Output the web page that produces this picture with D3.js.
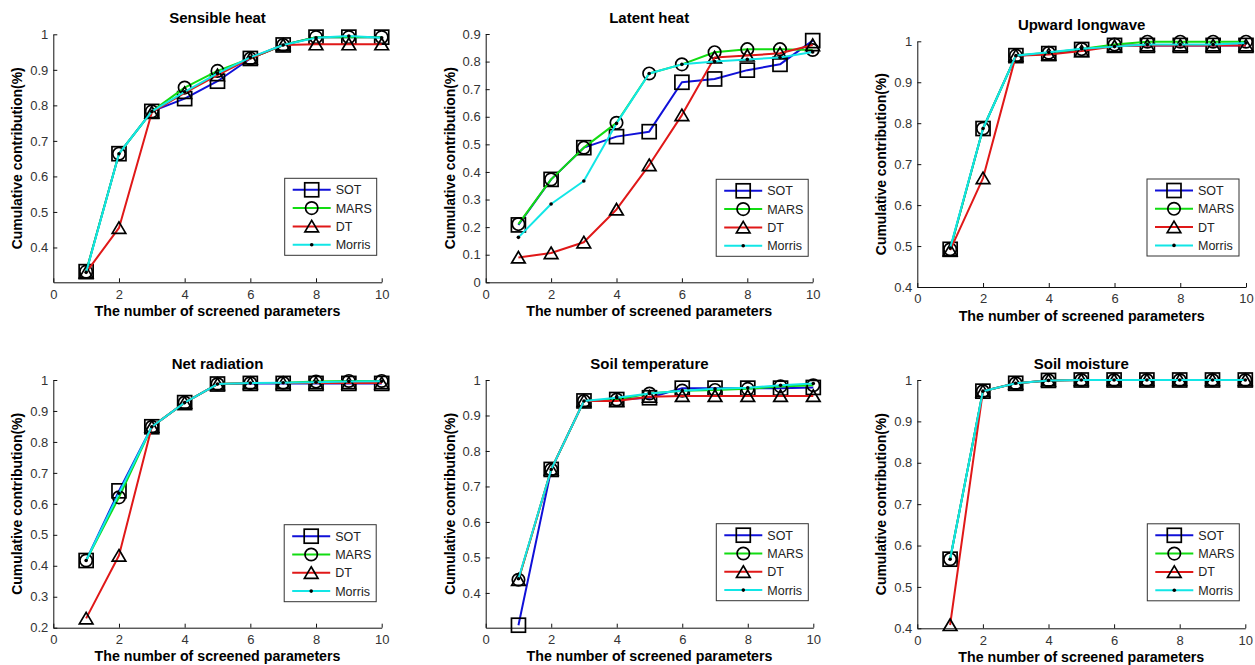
<!DOCTYPE html>
<html><head><meta charset="utf-8">
<script src="https://cdn.jsdelivr.net/npm/d3@7"></script>
<style>
body{margin:0;background:#fff}
svg{display:block}
text{font-family:"Liberation Sans",Arial,Helvetica,sans-serif}
</style>
</head><body>
<svg id="c" width="1255" height="665"></svg>
<script>
// ---------- data ----------
const paramCounts = [1,2,3,4,5,6,7,8,9,10];
const xTickValues = [0,2,4,6,8,10];
const methodNames = ["SOT","MARS","DT","Morris"];
const panelTitles = ["Sensible heat","Latent heat","Upward longwave","Net radiation","Soil temperature","Soil moisture"];
const xAxisLabel = "The number of screened parameters";
const yAxisLabel = "Cumulative contribution(%)";

const yTicksSensible = [0.4,0.5,0.6,0.7,0.8,0.9,1];
const yTicksLatent   = [0,0.1,0.2,0.3,0.4,0.5,0.6,0.7,0.8,0.9];
const yTicksUpward   = [0.4,0.5,0.6,0.7,0.8,0.9,1];
const yTicksNet      = [0.2,0.3,0.4,0.5,0.6,0.7,0.8,0.9,1];
const yTicksSoilT    = [0.4,0.5,0.6,0.7,0.8,0.9,1];
const yTicksSoilM    = [0.4,0.5,0.6,0.7,0.8,0.9,1];

const yDomainSensible = [0.302,1];
const yDomainLatent   = [0,0.9];
const yDomainUpward   = [0.4,1];
const yDomainNet      = [0.2,1];
const yDomainSoilT    = [0.302,1];
const yDomainSoilM    = [0.4,1];

const sensibleSOT    = [0.332,0.664,0.783,0.819,0.868,0.932,0.970,0.992,0.992,0.992];
const sensibleMARS   = [0.332,0.664,0.783,0.850,0.897,0.932,0.970,0.992,0.992,0.992];
const sensibleDT     = [0.330,0.455,0.780,0.835,0.885,0.932,0.970,0.972,0.972,0.972];
const sensibleMorris = [0.330,0.664,0.783,0.838,0.890,0.935,0.970,0.990,0.995,0.990];

const latentSOT    = [0.208,0.373,0.488,0.528,0.546,0.725,0.737,0.769,0.790,0.876];
const latentMARS   = [0.211,0.373,0.488,0.578,0.757,0.790,0.834,0.845,0.845,0.842];
const latentDT     = [0.090,0.106,0.145,0.264,0.425,0.606,0.815,0.822,0.830,0.860];
const latentMorris = [0.163,0.284,0.367,0.576,0.757,0.790,0.800,0.808,0.815,0.835];

const upwardSOT    = [0.492,0.787,0.965,0.970,0.980,0.990,0.990,0.990,0.990,0.990];
const upwardMARS   = [0.492,0.787,0.965,0.972,0.981,0.992,0.999,0.999,0.999,0.999];
const upwardDT     = [0.490,0.666,0.965,0.968,0.976,0.988,0.990,0.990,0.990,0.990];
const upwardMorris = [0.495,0.787,0.965,0.973,0.982,0.987,0.992,0.992,0.992,0.996];

const netSOT    = [0.417,0.642,0.849,0.927,0.987,0.989,0.989,0.989,0.989,0.989];
const netMARS   = [0.417,0.621,0.849,0.927,0.987,0.990,0.991,0.995,0.997,0.997];
const netDT     = [0.230,0.433,0.849,0.927,0.987,0.990,0.990,0.990,0.990,0.990];
const netMorris = [0.417,0.634,0.849,0.927,0.987,0.990,0.991,0.993,0.995,0.996];

const soilTSOT    = [0.309,0.748,0.941,0.945,0.950,0.977,0.977,0.977,0.977,0.979];
const soilTMARS   = [0.437,0.748,0.941,0.945,0.962,0.970,0.972,0.975,0.982,0.985];
const soilTDT     = [0.437,0.748,0.941,0.941,0.953,0.955,0.955,0.955,0.955,0.955];
const soilTMorris = [0.440,0.748,0.941,0.950,0.962,0.970,0.975,0.978,0.985,0.990];

const soilMSOT    = [0.567,0.973,0.992,0.999,1.000,1.000,1.000,1.000,1.000,1.000];
const soilMMARS   = [0.567,0.973,0.992,0.999,1.000,1.000,1.000,1.000,1.000,1.000];
const soilMDT     = [0.408,0.973,0.992,0.999,1.000,1.000,1.000,1.000,1.000,1.000];
const soilMMorris = [0.567,0.973,0.992,0.999,1.000,1.000,1.000,1.000,1.000,1.000];

// ---------- assembly ----------
const panelSeries = [
  [sensibleSOT,sensibleMARS,sensibleDT,sensibleMorris],
  [latentSOT,latentMARS,latentDT,latentMorris],
  [upwardSOT,upwardMARS,upwardDT,upwardMorris],
  [netSOT,netMARS,netDT,netMorris],
  [soilTSOT,soilTMARS,soilTDT,soilTMorris],
  [soilMSOT,soilMMARS,soilMDT,soilMMorris]
];
const panelYTicks = [yTicksSensible,yTicksLatent,yTicksUpward,yTicksNet,yTicksSoilT,yTicksSoilM];
const panelYDomains = [yDomainSensible,yDomainLatent,yDomainUpward,yDomainNet,yDomainSoilT,yDomainSoilM];

// layout (pixel boxes of each axes)
const boxes = [
  {l:53.3, r:381.7, t:34.3, b:282.3, lgR:5, lgB:27},
  {l:485.7,r:812.7, t:34.0, b:282.3, lgR:4.5, lgB:26},
  {l:917.3,r:1246,  t:41.3, b:287.0, lgR:7, lgB:31},
  {l:53.3, r:381.7, t:380,  b:627.7, lgR:5.5, lgB:26},
  {l:485.7,r:813.3, t:380,  b:627.7, lgR:5, lgB:27},
  {l:917.3,r:1245.3,t:380,  b:628.3, lgR:6, lgB:27.5}
];
const colors = ["#1010d8","#12dc12","#e01818","#12e6e6"];
const markerTypes = ["square","circle","triangle","dot"];

const svg = d3.select("#c");
const fmt = v => String(+v.toFixed(2));

function drawMarker(g, type, x, y) {
  if (type === "square") {
    g.append("rect").attr("x", x-7).attr("y", y-7).attr("width", 14).attr("height", 14)
      .attr("fill","none").attr("stroke","#000").attr("stroke-width",1.7);
  } else if (type === "circle") {
    g.append("circle").attr("cx", x).attr("cy", y).attr("r", 6.2)
      .attr("fill","none").attr("stroke","#000").attr("stroke-width",1.7);
  } else if (type === "triangle") {
    g.append("path").attr("d", `M${x},${y-6}L${x+6.8},${y+5.5}L${x-6.8},${y+5.5}Z`)
      .attr("fill","none").attr("stroke","#000").attr("stroke-width",1.7);
  } else {
    g.append("circle").attr("cx", x).attr("cy", y).attr("r", 1.8).attr("fill","#000");
  }
}

panelTitles.forEach((title, i) => {
  const bx = boxes[i];
  const x = d3.scaleLinear().domain([0,10]).range([bx.l, bx.r]);
  const y = d3.scaleLinear().domain(panelYDomains[i]).range([bx.b, bx.t]);
  const g = svg.append("g");

  // x axis
  const xAx = g.append("g").attr("transform", `translate(0,${bx.b})`)
    .call(d3.axisBottom(x).tickValues(xTickValues).tickSizeInner(-4).tickSizeOuter(0).tickPadding(7).tickFormat(d3.format("d")));
  xAx.select(".domain").attr("stroke","#111");
  xAx.selectAll(".tick line").attr("stroke","#111");
  xAx.selectAll("text").attr("font-size",13).attr("fill","#333");

  // y axis
  const yAx = g.append("g").attr("transform", `translate(${bx.l},0)`)
    .call(d3.axisLeft(y).tickValues(panelYTicks[i]).tickSizeInner(-4).tickSizeOuter(0).tickPadding(5).tickFormat(fmt));
  yAx.select(".domain").attr("stroke","#111");
  yAx.selectAll(".tick line").attr("stroke","#111");
  yAx.selectAll("text").attr("font-size",13).attr("fill","#333");

  // titles and labels
  g.append("text").attr("x", (bx.l+bx.r)/2).attr("y", bx.t-11).attr("text-anchor","middle")
    .attr("font-size",15).attr("font-weight","bold").attr("fill","#000").text(title);
  g.append("text").attr("x", (bx.l+bx.r)/2).attr("y", bx.b+33.5).attr("text-anchor","middle")
    .attr("font-size",15.5).attr("font-weight","bold").attr("fill","#000")
    .attr("textLength",246).attr("lengthAdjust","spacingAndGlyphs").text(xAxisLabel);
  g.append("text").attr("transform", `translate(${bx.l-31},${(bx.t+bx.b)/2}) rotate(-90)`)
    .attr("text-anchor","middle").attr("font-size",15.5).attr("font-weight","bold").attr("fill","#000")
    .attr("textLength",182).attr("lengthAdjust","spacingAndGlyphs").text(yAxisLabel);

  // series
  const line = d3.line().x((d,j) => x(paramCounts[j])).y(d => y(d));
  panelSeries[i].forEach((vals, k) => {
    g.append("path").datum(vals).attr("d", line).attr("fill","none")
      .attr("stroke", colors[k]).attr("stroke-width", 2).attr("stroke-linejoin","round");
    const mg = g.append("g");
    vals.forEach((v, j) => drawMarker(mg, markerTypes[k], x(paramCounts[j]), y(v)));
  });

  // legend
  const lw = 92, lh = 77;
  const lx = bx.r - bx.lgR - lw, ly = bx.b - bx.lgB - lh;
  const lg = g.append("g").attr("transform", `translate(${lx},${ly})`);
  lg.append("rect").attr("width", lw).attr("height", lh).attr("fill","#fff").attr("stroke","#333").attr("stroke-width",1);
  methodNames.forEach((name, k) => {
    const ry = 11.5 + k*18.3;
    lg.append("line").attr("x1",8).attr("x2",46).attr("y1",ry).attr("y2",ry)
      .attr("stroke", colors[k]).attr("stroke-width",2);
    drawMarker(lg, markerTypes[k], 27, ry);
    lg.append("text").attr("x",51).attr("y",ry+4.5).attr("font-size",12.5).attr("fill","#222").text(name);
  });
});
</script>
</body></html>
